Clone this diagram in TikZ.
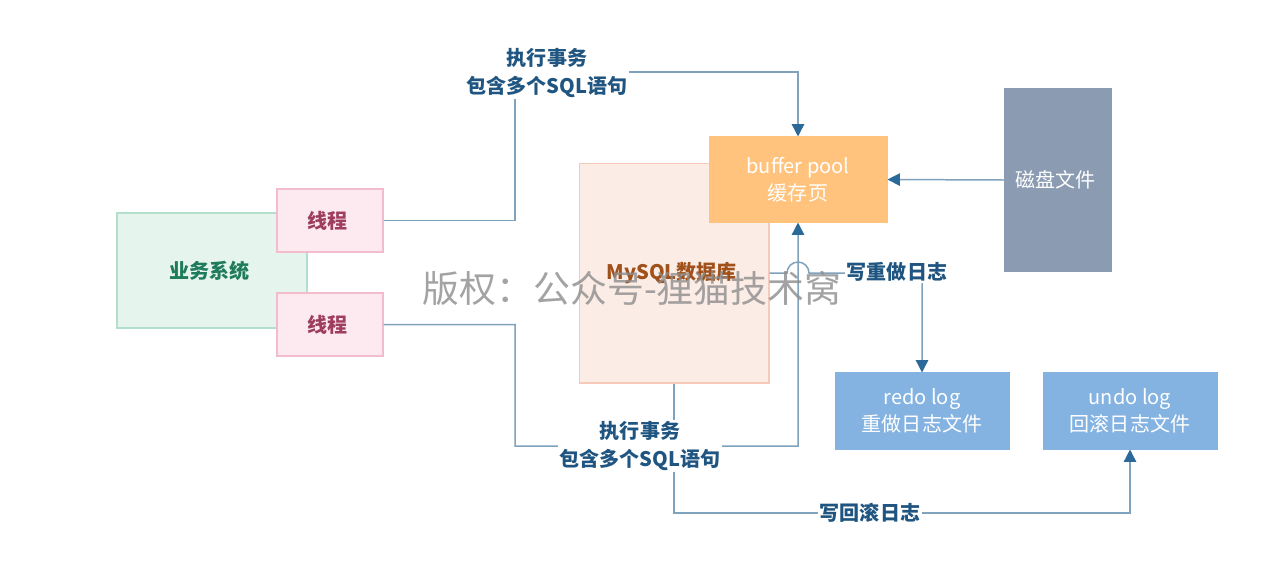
\documentclass[tikz,border=0pt]{standalone}
\usepackage{fontspec}
\setmainfont{Noto Sans CJK SC}
\usetikzlibrary{arrows.meta}

\definecolor{bizfill}{HTML}{E6F4EE}
\definecolor{bizdraw}{HTML}{B2DFCC}
\definecolor{biztext}{HTML}{1E7B5B}
\definecolor{thrfill}{HTML}{FCEAF0}
\definecolor{thrdraw}{HTML}{F2BCCD}
\definecolor{thrtext}{HTML}{9E3D5E}
\definecolor{dbfill}{HTML}{FBECE6}
\definecolor{dbdraw}{HTML}{F6C9B8}
\definecolor{dbtext}{HTML}{A0501A}
\definecolor{buffill}{HTML}{FFC37D}
\definecolor{diskfill}{HTML}{8A9BB2}
\definecolor{logfill}{HTML}{84B3E1}
\definecolor{linkblue}{HTML}{7FA2BD}
\definecolor{arrowblue}{HTML}{2B6A98}
\definecolor{labelblue}{HTML}{1F5580}

\begin{document}
\begin{tikzpicture}[
   x=0.02cm,
   y=-0.02cm,
   font=\fontsize{11.4}{15.4}\selectfont,
   block/.style={
      draw,
      align=center,
      inner sep=0pt,
      line width=0.6pt
   },
   link/.style={
      draw=linkblue,
      line width=0.85pt
   },
   arr/.style={
      link,
      -{Triangle[length=7pt,width=7pt,color=arrowblue]}
   },
   note/.style={
      fill=white,
      align=center,
      inner sep=1pt,
      text=labelblue,
      font=\fontsize{11.4}{15.4}\selectfont\bfseries
   }
]

   \path[use as bounding box] (0,0) rectangle (1274,572);

   % Business system and its threads
   \node[
      block,
      fill=bizfill,
      draw=bizdraw,
      text=biztext,
      font=\fontsize{11.4}{15.4}\selectfont\bfseries,
      minimum width=3.80cm,
      minimum height=2.30cm
   ] (biz) at (212,270.5)
   {
      业务系统
   };

   \node[
      block,
      fill=thrfill,
      draw=thrdraw,
      text=thrtext,
      font=\fontsize{11.4}{15.4}\selectfont\bfseries,
      minimum width=2.12cm,
      minimum height=1.26cm
   ] (thread1) at (330,220.5)
   {
      线程
   };

   \node[
      block,
      fill=thrfill,
      draw=thrdraw,
      text=thrtext,
      font=\fontsize{11.4}{15.4}\selectfont\bfseries,
      minimum width=2.12cm,
      minimum height=1.26cm
   ] (thread2) at (330,324.5)
   {
      线程
   };

   % MySQL
   \node[
      block,
      fill=dbfill,
      draw=dbdraw,
      text=dbtext,
      font=\fontsize{11.4}{15.4}\selectfont\bfseries,
      minimum width=3.80cm,
      minimum height=4.40cm
   ] (mysql) at (674,273)
   {
      MySQL数据库
   };

   % Buffer pool
   \node[
      block,
      fill=buffill,
      draw=buffill,
      text=white,
      minimum width=3.56cm,
      minimum height=1.70cm
   ] (buffer) at (798,179.5)
   {
      buffer pool\\
      缓存页
   };

   % Disk
   \node[
      block,
      fill=diskfill,
      draw=diskfill,
      text=white,
      minimum width=2.12cm,
      minimum height=3.64cm
   ] (disk) at (1058,180)
   {
      磁盘文件
   };

   % Log files
   \node[
      block,
      fill=logfill,
      draw=logfill,
      text=white,
      minimum width=3.48cm,
      minimum height=1.52cm
   ] (redo) at (922,411)
   {
      redo log\\
      重做日志文件
   };

   \node[
      block,
      fill=logfill,
      draw=logfill,
      text=white,
      minimum width=3.48cm,
      minimum height=1.52cm
   ] (undo) at (1130,411)
   {
      undo log\\
      回滚日志文件
   };

   % Bends of the connectors
   \coordinate (bendtop) at (515,72);
   \coordinate (bendlow) at (515,446);
   \coordinate (hoplow) at (664,446);
   \coordinate (hopredo) at (787,273);
   \coordinate (bendredo) at (922,273);
   \coordinate (bendundo) at (674,513);

   % Thread 1 to buffer pool
   \draw[arr] (thread1.east) -| (bendtop) -| (buffer.north);

   % Thread 2 to buffer pool
   \draw[arr]
      (thread2.east)
      -| (bendlow)
      -- (hoplow)
      arc[start angle=180,end angle=0,radius=0.22cm]
      -| (buffer.south);

   % Disk to buffer pool
   \draw[arr] (disk.west) -- (buffer.east);

   % Redo log
   \draw[arr]
      (mysql.east)
      -- (hopredo)
      arc[start angle=180,end angle=0,radius=0.22cm]
      -- (bendredo)
      -- (redo.north);

   % Undo log
   \draw[arr] (mysql.south) -- (bendundo) -| (undo.south);

   % Labels
   \node[note] (notetop) at (547,73)
   {
      执行事务\\
      包含多个SQL语句
   };

   \node[note] (notelow) at (640,446)
   {
      执行事务\\
      包含多个SQL语句
   };

   \node[note] (noteredo) at (897,272) {写重做日志};

   \node[note] (noteundo) at (870,513) {写回滚日志};

   % Watermark
   \node[
      text=black!45,
      opacity=0.8,
      font=\fontsize{21}{21}\selectfont
   ] (mark) at (632,288)
   {
      版权：公众号-狸猫技术窝
   };

\end{tikzpicture}
\end{document}
